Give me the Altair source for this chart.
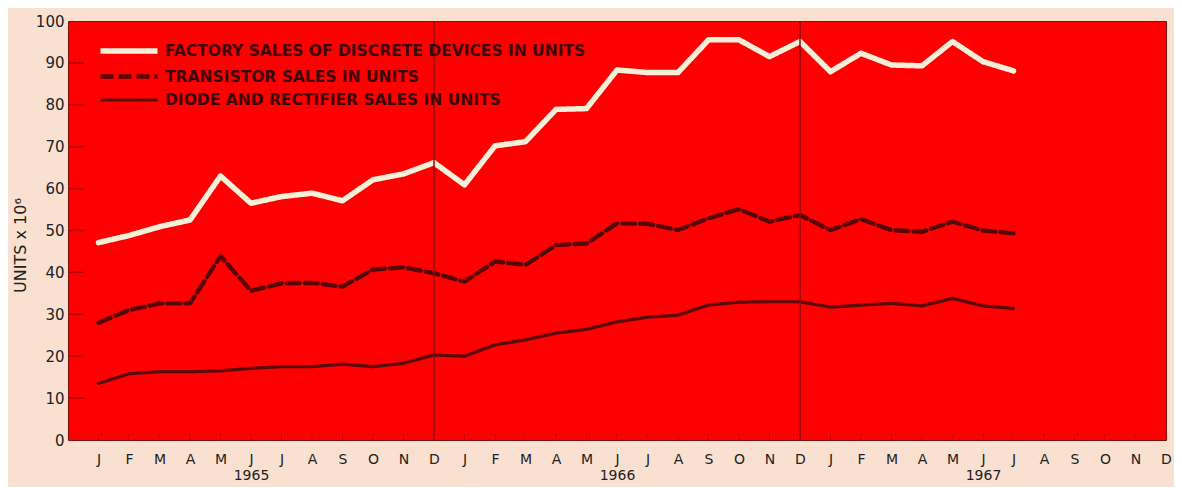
import altair as alt
import pandas as pd

month_letters = ["J", "F", "M", "A", "M", "J", "J", "A", "S", "O", "N", "D"]
years = ["1965", "1966", "1967"]
series_names = [
    "FACTORY SALES OF DISCRETE DEVICES IN UNITS",
    "TRANSISTOR SALES IN UNITS",
    "DIODE AND RECTIFIER SALES IN UNITS",
]
factory = [47.1, 48.8, 50.9, 52.5, 63.0, 56.5, 58.1, 58.9, 57.1, 62.1, 63.5, 66.2,
           60.9, 70.2, 71.2, 78.9, 79.1, 88.3, 87.7, 87.7, 95.5, 95.5, 91.5, 95.1,
           87.9, 92.3, 89.5, 89.3, 95.1, 90.3, 88.1]
transistor = [28.0, 31.0, 32.6, 32.6, 43.9, 35.6, 37.4, 37.5, 36.6, 40.7, 41.2, 39.8,
              37.8, 42.6, 41.8, 46.5, 46.9, 51.7, 51.6, 50.1, 52.9, 55.1, 52.1, 53.7,
              50.1, 52.7, 50.1, 49.7, 52.1, 50.0, 49.3]
diode = [13.5, 15.8, 16.3, 16.3, 16.5, 17.1, 17.5, 17.5, 18.1, 17.5, 18.3, 20.3,
         20.0, 22.7, 23.9, 25.5, 26.4, 28.2, 29.3, 29.8, 32.2, 32.9, 33.0, 33.0,
         31.7, 32.2, 32.6, 32.0, 33.8, 32.0, 31.4]
year_ends = [12, 24]
y_ticks = list(range(0, 101, 10))
x_ticks = list(range(1, 37))

rows = []
for name, vals in zip(series_names, [factory, transistor, diode]):
    for i, v in enumerate(vals):
        rows.append({"month": i + 1, "value": v, "series": name})
df = pd.DataFrame(rows)
div_df = pd.DataFrame({"month": year_ends})
ytick_df = pd.DataFrame({"value": y_ticks[1:-1]})
xtick_df = pd.DataFrame({"month": x_ticks})

arr = "[" + ",".join("'%s'" % m for m in month_letters) + "]"
yarr = "[" + ",".join("'%s'" % y for y in years) + "]"
label_expr = (f"(datum.value % 12 == 6) ? [{arr}[(datum.value-1)%12], {yarr}[floor((datum.value-1)/12)]]"
              f" : {arr}[(datum.value-1)%12]")

x_scale = alt.Scale(domain=[0, 36], nice=False, zero=False)
y_scale = alt.Scale(domain=[0, 100], nice=False)

x_axis = alt.Axis(values=x_ticks, labelExpr=label_expr, title=None, grid=False,
                  ticks=False, domain=False, labelPadding=12, labelFontSize=14,
                  labelLineHeight=16, labelFont="DejaVu Sans", labelColor="#222222",
                  labelFlush=False, labelOverlap=False, labelBound=False)
y_axis = alt.Axis(values=y_ticks, title="UNITS x 10\u2076", grid=False, ticks=False,
                  domain=False, labelPadding=4, labelFontSize=15, labelOverlap=False,
                  labelFont="DejaVu Sans", labelColor="#222222",
                  titleFont="DejaVu Sans", titleFontSize=16, titleFontWeight="normal",
                  titleColor="#222222", titleX=-40, titleY=224, titleAngle=270)

X = alt.X("month:Q", scale=x_scale, axis=x_axis)
Y = alt.Y("value:Q", scale=y_scale, axis=y_axis)

lines = alt.Chart(df).mark_line(strokeJoin="round", strokeCap="round").encode(
    x=X,
    y=Y,
    color=alt.Color("series:N", sort=series_names,
                    scale=alt.Scale(domain=series_names, range=["#f7efd8", "#560606", "#5a0808"]),
                    legend=alt.Legend(title=None)),
    strokeDash=alt.StrokeDash("series:N", sort=series_names,
                              scale=alt.Scale(domain=series_names, range=[[1, 0], [13, 5], [1, 0]]),
                              legend=alt.Legend(title=None)),
    strokeWidth=alt.StrokeWidth("series:N", sort=series_names,
                                scale=alt.Scale(domain=series_names, range=[5.5, 3.2, 2.8]),
                                legend=alt.Legend(title=None)),
    order=alt.Order("month:Q"),
)

dividers = alt.Chart(div_df).mark_rule(color="#8a0a0a", strokeWidth=1.5).encode(x=X)

yticks = alt.Chart(ytick_df).mark_rule(color="#b00000", strokeWidth=1.5).encode(
    x=alt.value(0), x2=alt.value(16), y=Y
)

xticks = alt.Chart(xtick_df).mark_rule(color="#c80000", strokeWidth=1.2).encode(
    x=X, y=alt.value(413), y2=alt.value(419)
)

chart = alt.layer(lines, yticks, xticks, dividers).properties(
    width=1098, height=419,
    autosize=alt.AutoSizeParams(type="none"),
    padding={"left": 60, "top": 13, "right": 8, "bottom": 47},
    background="#f9e0d0",
).configure_view(
    fill="#ff0000", stroke="#7a1010", strokeWidth=1
).configure_axis(
    labelOverlap=False
).configure_legend(
    orient="none", legendX=48, legendY=17, padding=0,
    labelFont="DejaVu Sans", labelFontSize=15.5, labelFontWeight="bold",
    labelColor="#3a0505", symbolType="M-2.85,0H2.85", symbolSize=400,
    rowPadding=2, labelOffset=23, labelLimit=600,
)

chart.save("out.html", embed_options={"renderer": "svg", "actions": False})
